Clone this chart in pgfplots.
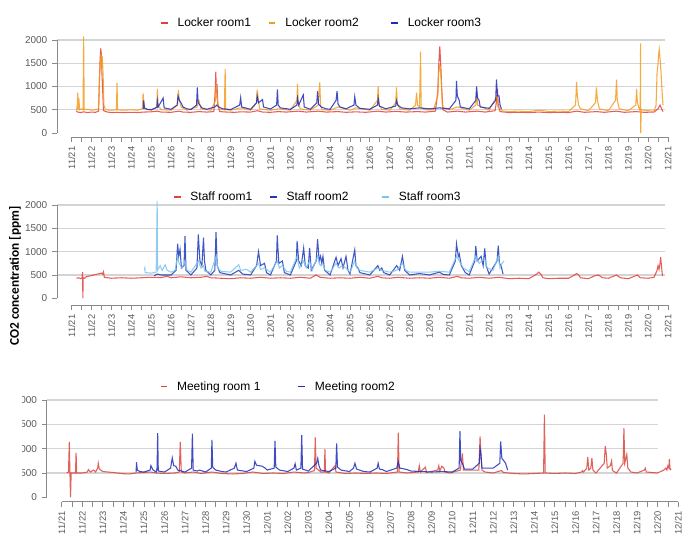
\documentclass[border=0pt]{standalone}
\usepackage{fontspec}
\setmainfont{Liberation Sans}
\newfontfamily\carlito{Carlito}
\usepackage{pgfplots}
\pgfplotsset{compat=1.18}

\definecolor{redA}{HTML}{E2403A}
\definecolor{orangeA}{HTML}{F39C1F}
\definecolor{blueA}{HTML}{1E2DB8}
\definecolor{blueB}{HTML}{1F3BB8}
\definecolor{skyB}{HTML}{7CC3EE}
\definecolor{redC}{HTML}{D9463E}
\definecolor{gridc}{HTML}{D4D4D4}
\definecolor{axc}{HTML}{8A8A8A}
\definecolor{labc}{HTML}{5A5A5A}

\pgfplotsset{
  co2panel/.style={
    scale only axis, clip=false,
    xmax=30, ymax=2000,
    axis x line*=bottom, axis y line*=left,
    axis line style={draw=none},
    xtick={0,...,30},
    xticklabels={11/21,11/22,11/23,11/24,11/25,11/26,11/27,11/28,11/29,11/30,
      12/01,12/02,12/03,12/04,12/05,12/06,12/07,12/08,12/09,12/10,
      12/11,12/12,12/13,12/14,12/15,12/16,12/17,12/18,12/19,12/20,12/21},
    minor x tick num=1,
    ytick={0,500,1000,1500,2000},
    tick align=outside,
    major tick length=3.75pt, minor tick length=3.75pt,
    tick style={axc, line width=0.6pt},
    /pgf/number format/assume math mode=true,
    /pgf/number format/1000 sep={},
    x tick label style={rotate=90, anchor=east, text=labc,
      font=\fontsize{7}{8}\selectfont},
    y tick label style={text=labc, font=\fontsize{7.5}{8}\selectfont},
    legend style={draw=none, fill=none, anchor=west, legend columns=3,
      font=\fontsize{9}{10}\selectfont, inner sep=0pt,
      /tikz/every odd column/.append style={column sep=5pt},
      /tikz/every even column/.append style={column sep=11pt}},
    legend image code/.code={\draw[#1, line width=0.8pt, opacity=1] (0pt,0pt) -- (5pt,0pt);},
    every axis plot/.append style={line width=0.8pt, opacity=0.85},
  },
}

\begin{document}
\begin{tikzpicture}
\useasboundingbox (0,0) rectangle (525pt,-417.75pt);
\coordinate (p1) at (42.75pt,-102.75pt);
\coordinate (p2) at (42.75pt,-228.75pt);
\coordinate (p3) at (35.03pt,-376.28pt);

% ---------- Locker rooms ----------
\begin{axis}[co2panel, at={(p1)}, anchor=south west,
  width=458.25pt, height=72.75pt, xmin=-0.74, ymin=-86,
  legend style={at={(axis description cs:0.169,1.175)}}]
\draw[gridc, line width=0.9pt] (axis cs:-0.74,500) -- (axis cs:29.85,500)
  (axis cs:-0.74,1000) -- (axis cs:29.85,1000)
  (axis cs:-0.74,1500) -- (axis cs:29.85,1500)
  (axis cs:-0.74,2000) -- (axis cs:29.85,2000);
\draw[axc, line width=0.6pt] (axis cs:0,-86) -- (axis cs:30,-86);
\draw[axc, line width=0.6pt] (axis cs:-0.74,0) -- (axis cs:-0.74,2000);

\addplot[redA] coordinates {
(0.24,470)(0.3,450)(0.45,440)(0.6,455)(0.8,440)(1.0,450)(1.2,445)(1.35,470)(1.4,1200)(1.43,1600)(1.46,1820)(1.49,1700)(1.52,1300)(1.56,900)(1.6,480)(1.8,450)(2.0,440)(2.3,445)(2.6,440)(3.0,445)(3.3,440)(3.6,450)(4.0,455)(4.3,470)(4.5,450)(5.0,445)(5.4,470)(5.6,450)(6.0,445)(6.4,460)(6.8,450)(7.15,460)(7.22,900)(7.25,1320)(7.28,850)(7.31,1050)(7.35,600)(7.45,460)(7.8,450)(8.2,445)(8.5,455)(9.0,450)(9.35,480)(9.6,450)(10.0,445)(10.4,460)(10.8,450)(11.4,470)(11.8,450)(12.4,470)(12.8,450)(13.4,460)(13.8,445)(14.3,455)(14.8,445)(15.4,470)(15.8,450)(16.3,465)(16.8,450)(17.4,460)(17.8,450)(18.3,470)(18.42,900)(18.46,1400)(18.5,1750)(18.52,1860)(18.55,1600)(18.58,1350)(18.62,900)(18.68,500)(18.9,450)(19.4,470)(19.8,450)(20.4,470)(20.8,450)(21.3,480)(21.38,700)(21.42,950)(21.46,600)(21.55,460)(22,440)(22.5,445)(23,440)(23.5,450)(24,440)(24.5,445)(25,440)(25.4,470)(25.8,445)(26.4,460)(26.8,445)(27.4,470)(27.8,445)(28.4,460)(28.8,445)(29.3,450)(29.5,520)(29.6,600)(29.7,500)(29.75,460)
};
\addplot[orangeA] coordinates {
(0.24,480)(0.28,600)(0.3,870)(0.33,500)(0.36,750)(0.4,500)(0.5,520)(0.57,500)(0.6,2080)(0.63,500)(0.8,510)(1.0,490)(1.2,500)(1.35,520)(1.4,1200)(1.44,1500)(1.47,1700)(1.5,1400)(1.54,1650)(1.58,1250)(1.62,600)(1.7,500)(2.0,490)(2.25,500)(2.28,1070)(2.31,500)(2.6,490)(3.0,500)(3.3,490)(3.56,520)(3.59,850)(3.62,700)(3.66,520)(4.0,490)(4.28,560)(4.31,950)(4.34,600)(4.5,500)(5.0,490)(5.33,600)(5.37,920)(5.4,750)(5.5,560)(5.8,490)(6.3,560)(6.4,700)(6.5,520)(7.0,490)(7.24,700)(7.27,1050)(7.3,800)(7.4,520)(7.68,500)(7.72,1380)(7.75,500)(8.0,490)(8.5,540)(9.0,490)(9.3,650)(9.33,930)(9.37,800)(9.45,520)(10.0,490)(10.4,520)(11.0,490)(11.33,700)(11.36,1050)(11.4,650)(11.5,520)(12.0,490)(12.4,600)(12.48,1090)(12.52,600)(12.6,500)(13.0,490)(13.4,560)(14.0,490)(14.3,540)(15.0,490)(15.38,700)(15.42,1000)(15.46,600)(15.6,510)(16.0,490)(16.3,650)(16.34,980)(16.38,650)(16.5,520)(17.0,490)(17.3,600)(17.35,870)(17.4,600)(17.5,560)(17.55,1750)(17.58,550)(17.8,500)(18.2,500)(18.42,800)(18.46,1300)(18.5,1450)(18.54,1400)(18.6,1100)(18.65,550)(19.0,500)(19.4,560)(20.0,490)(20.33,600)(20.37,900)(20.42,600)(21.0,490)(21.4,800)(21.45,550)(21.7,470)(22.0,465)(22.5,470)(23.0,460)(23.5,490)(24.0,465)(24.5,470)(25.0,465)(25.35,600)(25.4,1100)(25.44,800)(25.5,600)(25.6,520)(26.0,480)(26.35,650)(26.4,980)(26.45,700)(26.55,520)(27.0,480)(27.36,700)(27.41,1150)(27.45,700)(27.55,520)(28.0,480)(28.38,600)(28.42,950)(28.46,650)(28.55,520)(28.6,480)(28.62,1930)(28.63,0)(28.65,500)(28.8,490)(29.0,480)(29.3,470)(29.4,600)(29.45,1300)(29.5,1500)(29.53,1700)(29.56,1800)(29.6,1600)(29.65,1300)(29.7,900)(29.75,600)
};
\addplot[blueA] coordinates {
(3.6,520)(3.62,700)(3.66,540)(3.8,510)(4.0,500)(4.28,550)(4.31,700)(4.35,560)(4.6,750)(4.65,540)(5.0,510)(5.3,600)(5.35,800)(5.42,700)(5.5,650)(5.6,560)(5.8,520)(6.0,505)(6.28,600)(6.32,980)(6.36,650)(6.45,600)(6.55,540)(6.8,510)(7.2,560)(7.3,600)(7.4,560)(7.6,520)(8.0,505)(8.45,600)(8.5,760)(8.55,560)(9.0,510)(9.3,650)(9.33,800)(9.4,650)(9.6,720)(9.65,560)(10.0,515)(10.31,600)(10.35,940)(10.39,600)(10.5,540)(11.0,510)(11.33,600)(11.36,750)(11.42,600)(11.65,820)(11.7,560)(12.0,510)(12.33,650)(12.37,900)(12.42,620)(12.55,560)(12.8,520)(13.0,510)(13.3,700)(13.35,900)(13.4,620)(13.5,560)(13.8,520)(14.2,600)(14.24,780)(14.3,600)(14.5,530)(15.0,510)(15.38,600)(15.42,750)(15.48,580)(15.8,520)(16.3,580)(16.34,700)(16.4,600)(16.6,540)(17.0,520)(17.5,540)(18.0,520)(18.5,540)(19.0,520)(19.33,700)(19.36,1120)(19.4,800)(19.5,700)(19.55,560)(20.0,520)(20.33,700)(20.37,1000)(20.42,750)(20.5,700)(20.55,560)(21.0,530)(21.33,700)(21.37,1150)(21.42,800)(21.5,800)(21.55,600)(21.62,520)
};
\legend{Locker room1,Locker room2\hspace*{11pt}\mbox{},Locker room3}
\end{axis}

% ---------- Staff rooms ----------
\begin{axis}[co2panel, at={(p2)}, anchor=south west,
  width=458.25pt, height=75pt, xmin=-0.74, ymin=-144,
  legend style={at={(axis description cs:0.19,1.08)}}]
\draw[gridc, line width=0.9pt] (axis cs:-0.74,500) -- (axis cs:29.85,500)
  (axis cs:-0.74,1000) -- (axis cs:29.85,1000)
  (axis cs:-0.74,1500) -- (axis cs:29.85,1500)
  (axis cs:-0.74,2000) -- (axis cs:29.85,2000);
\draw[axc, line width=0.6pt] (axis cs:0,-144) -- (axis cs:30,-144);
\draw[axc, line width=0.6pt] (axis cs:-0.74,0) -- (axis cs:-0.74,2000);

\addplot[redA] coordinates {
(0.24,430)(0.35,440)(0.45,420)(0.52,440)(0.55,560)(0.56,0)(0.58,440)(0.65,430)(0.72,460)(1.5,540)(1.55,520)(1.6,570)(1.64,450)(1.8,440)(2.0,430)(2.5,440)(3.0,430)(3.5,440)(4.0,450)(4.5,445)(4.8,470)(5.0,440)(5.5,460)(6.0,440)(6.5,450)(6.8,470)(7.0,440)(7.5,430)(8.0,420)(8.5,440)(9.0,430)(9.5,450)(10.0,430)(10.5,440)(11.0,430)(11.5,450)(12.0,430)(12.3,500)(12.5,450)(13.0,430)(13.5,440)(14.0,430)(14.5,450)(15.0,430)(15.4,470)(15.6,440)(16.0,430)(16.4,450)(17.0,430)(17.5,440)(18.0,430)(18.5,450)(19.0,430)(19.4,470)(19.6,440)(20.0,430)(20.5,450)(21.0,430)(21.5,450)(22.0,420)(22.5,430)(23.0,420)(23.4,520)(23.5,560)(23.6,520)(23.7,440)(24.0,420)(24.5,430)(25.0,430)(25.3,500)(25.4,530)(25.5,500)(25.6,440)(26.0,420)(26.3,480)(26.5,500)(26.7,440)(27.0,430)(27.3,480)(27.4,500)(27.6,440)(28.0,420)(28.3,470)(28.45,500)(28.6,440)(29.0,430)(29.3,450)(29.45,600)(29.5,700)(29.55,620)(29.6,750)(29.63,880)(29.67,700)(29.72,480)
};
\addplot[blueB] coordinates {
(4.15,480)(4.3,520)(4.5,500)(5.0,500)(5.25,600)(5.33,1170)(5.38,900)(5.45,1050)(5.52,650)(5.65,700)(5.7,1330)(5.75,600)(6.0,500)(6.3,650)(6.37,1370)(6.45,800)(6.55,700)(6.63,1300)(6.68,800)(6.75,600)(7.0,500)(7.2,600)(7.26,1420)(7.32,700)(7.45,550)(8.0,500)(8.4,600)(8.6,520)(9.0,500)(9.3,700)(9.4,1000)(9.5,700)(9.7,750)(9.8,550)(10.0,500)(10.3,800)(10.34,1350)(10.42,750)(10.6,800)(10.7,550)(11.0,500)(11.3,800)(11.34,1230)(11.42,800)(11.55,700)(11.67,1080)(11.75,700)(11.9,650)(11.97,1080)(12.05,600)(12.3,800)(12.37,1270)(12.45,800)(12.52,900)(12.58,750)(12.64,900)(12.72,600)(13.0,500)(13.3,880)(13.4,700)(13.55,850)(13.65,650)(13.8,900)(13.9,600)(14.0,520)(14.24,1040)(14.3,700)(14.4,650)(14.5,550)(15.0,500)(15.4,700)(15.5,600)(15.6,650)(15.7,550)(16.0,500)(16.35,700)(16.5,600)(16.64,900)(16.75,600)(17.0,500)(17.5,530)(18.0,500)(18.5,560)(18.7,510)(19.0,500)(19.3,800)(19.36,1170)(19.45,900)(19.5,950)(19.6,700)(19.8,550)(20.0,500)(20.28,800)(20.33,1120)(20.4,800)(20.6,900)(20.7,700)(20.78,1070)(20.85,700)(21.0,520)(21.4,800)(21.46,1130)(21.52,750)(21.6,700)(21.7,520)
};
\addplot[skyB] coordinates {
(3.65,600)(3.68,650)(3.7,550)(4.0,540)(4.25,560)(4.3,2080)(4.32,600)(4.45,700)(4.55,600)(4.7,720)(4.8,600)(5.0,560)(5.2,600)(5.33,900)(5.4,750)(5.55,650)(5.7,800)(5.8,600)(6.0,560)(6.37,800)(6.5,650)(6.63,700)(6.7,580)(7.0,560)(7.26,900)(7.35,650)(7.5,580)(8.0,560)(8.4,720)(8.5,600)(8.8,620)(9.0,560)(9.4,750)(9.5,620)(9.7,650)(10.0,560)(10.34,800)(10.45,650)(10.6,700)(10.8,580)(11.0,560)(11.34,900)(11.45,650)(11.67,800)(11.8,650)(11.97,800)(12.1,600)(12.37,900)(12.5,700)(12.62,750)(12.75,600)(13.0,560)(13.3,750)(13.45,650)(13.6,700)(13.8,650)(14.0,560)(14.24,800)(14.35,650)(14.5,600)(15.0,560)(15.4,650)(15.6,600)(16.0,560)(16.35,600)(16.64,750)(16.8,600)(17.0,560)(17.5,560)(18.0,560)(18.5,580)(19.0,560)(19.36,900)(19.5,800)(19.7,650)(20.0,570)(20.33,900)(20.5,750)(20.78,850)(20.9,650)(21.2,600)(21.46,900)(21.55,650)(21.65,750)(21.75,800)
};
\legend{Staff room1,Staff room2\hspace*{12pt}\mbox{},Staff room3}
\end{axis}

% ---------- Meeting rooms ----------
\begin{axis}[co2panel, at={(p3)}, anchor=south west,
  width=473.6pt, height=76.3pt, xmin=-0.73, ymin=-90,
  legend columns=2,
  legend style={at={(axis description cs:0.179,1.131)}}]
\draw[gridc, line width=0.9pt] (axis cs:-0.73,500) -- (axis cs:29.03,500)
  (axis cs:-0.73,1000) -- (axis cs:29.03,1000)
  (axis cs:-0.73,1500) -- (axis cs:29.03,1500)
  (axis cs:-0.73,2000) -- (axis cs:29.03,2000);
\draw[axc, line width=0.6pt] (axis cs:0,-90) -- (axis cs:30,-90);
\draw[axc, line width=0.6pt] (axis cs:-0.73,0) -- (axis cs:-0.73,2000);

\addplot[redC] coordinates {
(0.24,500)(0.33,520)(0.37,1140)(0.4,500)(0.43,0)(0.46,500)(0.6,500)(0.67,500)(0.7,920)(0.73,500)(1.0,500)(1.25,520)(1.3,570)(1.4,520)(1.55,560)(1.65,520)(1.75,600)(1.78,700)(1.83,580)(2.0,530)(2.5,510)(3.0,485)(3.3,480)(3.6,500)(4.0,510)(4.3,520)(4.6,500)(5.0,490)(5.5,500)(5.72,520)(5.77,1140)(5.82,520)(6.0,500)(6.4,520)(6.8,490)(7.3,520)(7.8,490)(8.3,480)(8.8,490)(9.3,520)(9.8,490)(10.3,500)(10.8,490)(11.3,520)(11.8,500)(12.0,510)(12.3,550)(12.34,1230)(12.38,600)(12.5,560)(12.6,520)(12.78,520)(12.81,990)(12.84,520)(13.0,500)(13.3,650)(13.35,520)(13.8,490)(14.3,500)(14.8,490)(15.3,500)(15.8,490)(16.34,520)(16.38,1330)(16.42,520)(16.8,500)(17.35,520)(17.4,650)(17.45,520)(17.7,620)(17.75,510)(18.3,560)(18.35,650)(18.4,540)(18.5,640)(18.6,600)(18.65,520)(18.9,500)(19.4,560)(19.5,900)(19.55,560)(20.3,560)(20.36,1250)(20.4,900)(20.45,560)(20.6,520)(21.0,500)(21.4,550)(21.5,510)(22.0,490)(22.5,480)(23.0,490)(23.45,500)(23.49,1700)(23.53,500)(24.0,490)(24.5,500)(25.0,490)(25.3,520)(25.35,550)(25.4,520)(25.55,600)(25.6,830)(25.65,560)(25.75,600)(25.8,810)(25.85,560)(26.0,500)(26.4,700)(26.45,1050)(26.5,900)(26.55,600)(26.7,650)(26.76,750)(26.8,550)(27.0,500)(27.32,700)(27.36,1420)(27.4,700)(27.5,880)(27.55,600)(27.7,520)(28.0,500)(28.35,560)(28.4,600)(28.45,520)(29.0,500)(29.3,560)(29.4,600)(29.45,560)(29.5,650)(29.55,600)(29.57,790)(29.6,600)(29.65,560)
};
\addplot[blueA] coordinates {
(3.62,520)(3.64,720)(3.68,560)(3.8,530)(4.0,520)(4.3,560)(4.34,650)(4.4,600)(4.45,560)(4.6,520)(4.64,600)(4.67,1320)(4.7,540)(5.0,520)(5.3,600)(5.38,810)(5.45,650)(5.55,640)(5.65,560)(6.0,520)(6.32,600)(6.36,1310)(6.4,560)(6.6,540)(6.7,560)(7.0,520)(7.28,600)(7.31,1180)(7.35,620)(7.5,560)(7.8,530)(8.0,520)(8.4,600)(8.48,700)(8.55,560)(9.0,530)(9.35,600)(9.4,740)(9.48,660)(9.6,650)(9.75,640)(9.9,600)(10.0,560)(10.34,600)(10.38,1160)(10.42,620)(10.6,560)(11.0,530)(11.3,600)(11.36,690)(11.42,560)(11.64,600)(11.68,1280)(11.72,580)(12.0,540)(12.4,700)(12.46,800)(12.52,650)(12.6,560)(13.0,530)(13.34,600)(13.38,1110)(13.42,620)(13.6,560)(14.0,530)(14.2,600)(14.27,700)(14.35,580)(14.7,530)(15.0,520)(15.35,600)(15.4,700)(15.46,580)(15.6,570)(15.8,530)(16.3,600)(16.38,730)(16.45,600)(16.6,590)(16.8,570)(17.0,540)(17.5,530)(18.0,520)(18.5,530)(19.0,520)(19.34,600)(19.38,1360)(19.42,750)(19.5,700)(19.6,580)(20.0,580)(20.32,700)(20.36,1000)(20.4,900)(20.45,600)(20.6,600)(21.0,600)(21.32,700)(21.36,1150)(21.42,800)(21.5,760)(21.6,700)(21.7,560)
};
\legend{Meeting room 1\hspace*{15pt}\mbox{},Meeting room2}
\end{axis}

% the reference cuts off the left edge of the lowest panel's tick labels
\fill[white] (0pt,-283pt) rectangle (16.5pt,-379pt);

\node[rotate=90, font=\carlito\bfseries\fontsize{10}{12}\selectfont] at (11.25pt,-207pt) {CO2 concentration [ppm]};
\end{tikzpicture}
\end{document}
